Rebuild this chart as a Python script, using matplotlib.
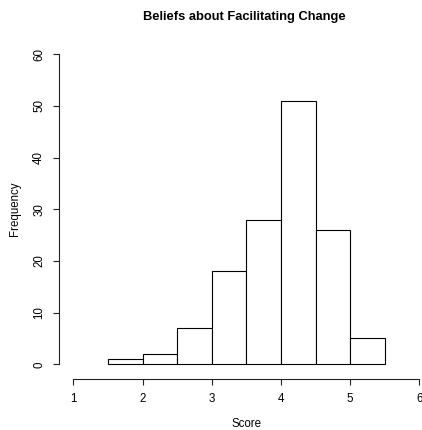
import numpy as np
import matplotlib.pyplot as plt

plt.rcParams['font.family'] = ['Liberation Sans', 'DejaVu Sans']

# Histogram bins and counts
bin_edges = [1.5, 2.0, 2.5, 3.0, 3.5, 4.0, 4.5, 5.0, 5.5]
counts = [1, 2, 7, 18, 28, 51, 26, 5]
x_ticks = [1, 2, 3, 4, 5, 6]
y_ticks = [0, 10, 20, 30, 40, 50, 60]

W, H = 422, 430
fig = plt.figure(figsize=(W / 100, H / 100), dpi=100)

# axes placed in pixels to mimic R's base graphics layout
left, right, top, bottom = 59.3, 422, 40, 378.7
ax = fig.add_axes([left / W, 1 - bottom / H, (right - left) / W, (bottom - top) / H])

px_per_x = 69.2
px_per_y = 310 / 60
x0 = 1 - (73.3 - left) / px_per_x
x1 = 1 + (right - 73.3) / px_per_x
y0 = (364.3 - bottom) / px_per_y
y1 = (364.3 - top) / px_per_y

edges = np.array(bin_edges)
ax.bar(edges[:-1], counts, width=np.diff(edges), align='edge',
       color='white', edgecolor='black', linewidth=0.8)

ax.set_xlim(x0, x1)
ax.set_ylim(y0, y1)

for s in ['top', 'right']:
    ax.spines[s].set_visible(False)
ax.spines['left'].set_bounds(0, 60)
ax.spines['bottom'].set_bounds(1, 6)
for s in ['left', 'bottom']:
    ax.spines[s].set_linewidth(0.8)
    ax.spines[s].set_color('#222222')

ax.set_xticks(x_ticks)
ax.set_yticks(y_ticks)
ax.tick_params(axis='both', length=4.2, width=0.8, color='#222222', labelsize=8.3)
ax.tick_params(axis='x', pad=6)
ax.tick_params(axis='y', pad=6)
plt.setp(ax.get_yticklabels(), rotation=90, va='center')

ax.set_xlabel('Score', fontsize=8.3, va='center')
ax.xaxis.set_label_coords(246 / W, 1 - 424 / H, transform=fig.transFigure)
ax.set_ylabel('Frequency', fontsize=8.3, va='center')
ax.yaxis.set_label_coords(15.5 / W, 1 - 209 / H, transform=fig.transFigure)

fig.text(244.5 / W, 1 - 17 / H, 'Beliefs about Facilitating Change',
         ha='center', va='center', fontsize=9.3, fontweight='bold')

fig.savefig('out.png', dpi=100)
